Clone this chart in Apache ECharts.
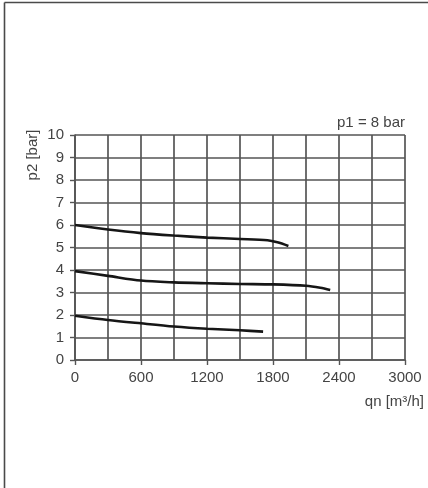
<!DOCTYPE html>
<html>
<head>
<meta charset="utf-8">
<script src="https://cdn.jsdelivr.net/npm/echarts@6/dist/echarts.min.js"></script>
<style>
html,body{margin:0;padding:0;background:#fff;}
#c{width:428px;height:488px;}
</style>
</head>
<body>
<div id="c"></div>
<script>
// Data
const qTop = [0, 300, 600, 900, 1200, 1500, 1750, 1840, 1940];
const pTop = [6.0, 5.8, 5.64, 5.53, 5.44, 5.38, 5.32, 5.23, 5.07];
const qMid = [0, 300, 600, 900, 1200, 1500, 1800, 2100, 2230, 2320];
const pMid = [3.95, 3.74, 3.53, 3.45, 3.41, 3.38, 3.36, 3.30, 3.21, 3.11];
const qBot = [0, 300, 600, 900, 1200, 1500, 1710];
const pBot = [1.97, 1.78, 1.63, 1.49, 1.39, 1.32, 1.26];
const xTicks = [0, 600, 1200, 1800, 2400, 3000];
const yTicks = [0, 1, 2, 3, 4, 5, 6, 7, 8, 9, 10];
const xName = 'qn [m³/h]';
const yName = 'p2 [bar]';
const note = 'p1 = 8 bar';

const FONT = "'Liberation Sans', Arial, sans-serif";
const GRID_C = '#555';
const TXT_C = '#444';
const pair = (xs, ys) => xs.map((x, i) => [x, ys[i]]);

const chart = echarts.init(document.getElementById('c'), null, {renderer: 'canvas'});
const lineSeries = (xs, ys) => ({
  type: 'line', data: pair(xs, ys), smooth: 0.3,
  showSymbol: false, symbol: 'none',
  lineStyle: {color: '#161616', width: 2.6}, silent: true
});
chart.setOption({
  animation: false,
  backgroundColor: '#fff',
  grid: {left: 75, top: 135, width: 330, height: 225, containLabel: false},
  xAxis: {
    type: 'value', min: xTicks[0], max: xTicks[xTicks.length - 1], interval: 600,
    axisLine: {show: true, lineStyle: {color: GRID_C, width: 1.7}},
    axisTick: {show: true, length: 5, lineStyle: {color: GRID_C, width: 1.4}},
    axisLabel: {color: TXT_C, fontFamily: FONT, fontSize: 15, margin: 10,
      formatter: v => (xTicks.indexOf(v) >= 0 ? String(v) : '')},
    splitLine: {show: true, lineStyle: {color: GRID_C, width: 1.7}},
    minorTick: {show: false, splitNumber: 2},
    minorSplitLine: {show: true, lineStyle: {color: GRID_C, width: 1.7}}
  },
  yAxis: {
    type: 'value', min: yTicks[0], max: yTicks[yTicks.length - 1], interval: 1,
    axisLine: {show: true, lineStyle: {color: GRID_C, width: 1.7}},
    axisTick: {show: true, length: 5, lineStyle: {color: GRID_C, width: 1.4}},
    axisLabel: {color: TXT_C, fontFamily: FONT, fontSize: 15, margin: 11},
    splitLine: {show: true, lineStyle: {color: GRID_C, width: 1.7}}
  },
  graphic: [
    {type: 'line', shape: {x1: 4.5, y1: 2.5, x2: 428, y2: 2.5}, style: {stroke: '#4a4a4a', lineWidth: 1.6}},
    {type: 'line', shape: {x1: 4.5, y1: 2.5, x2: 4.5, y2: 488}, style: {stroke: '#4a4a4a', lineWidth: 1.6}},
    {type: 'text', x: 405, y: 123, style: {text: note, font: '15px ' + FONT, fill: TXT_C, textAlign: 'right', textVerticalAlign: 'middle'}},
    {type: 'text', x: 424, y: 402, style: {text: xName, font: '15px ' + FONT, fill: TXT_C, textAlign: 'right', textVerticalAlign: 'middle'}},
    {type: 'text', x: 33, y: 155, rotation: Math.PI / 2, style: {text: yName, font: '15px ' + FONT, fill: TXT_C, textAlign: 'center', textVerticalAlign: 'middle'}}
  ],
  series: [lineSeries(qTop, pTop), lineSeries(qMid, pMid), lineSeries(qBot, pBot)]
});
</script>
</body>
</html>
